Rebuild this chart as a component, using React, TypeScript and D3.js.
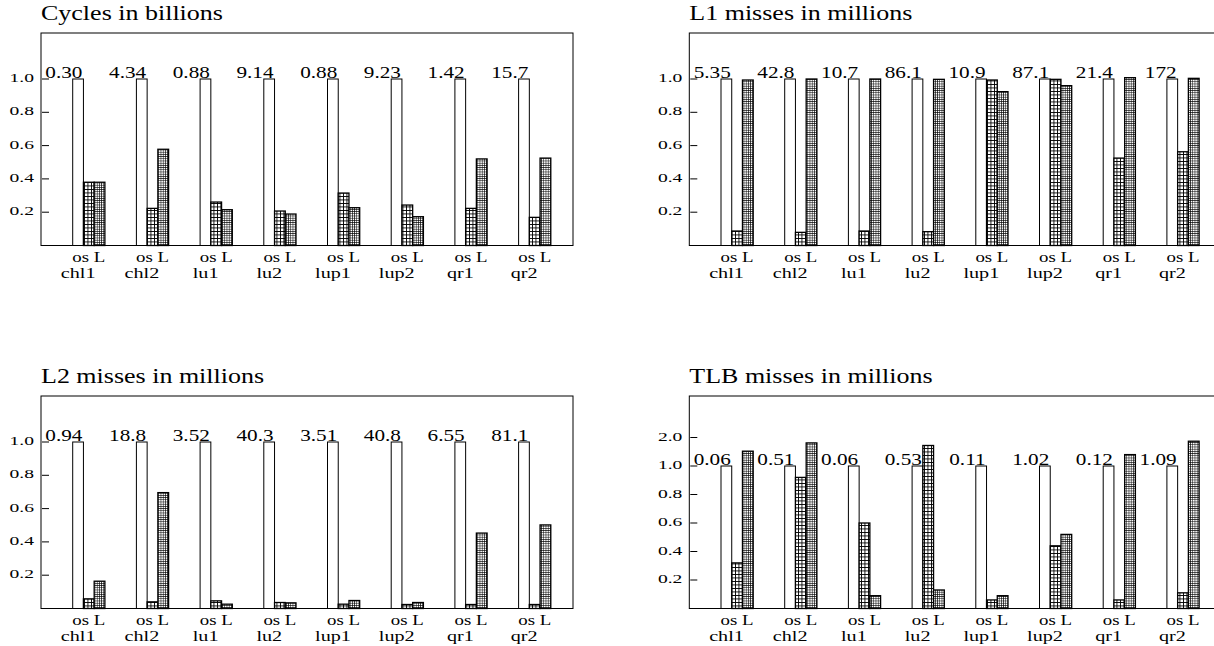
import React from "react";
import * as d3 from "d3";

const categories = ["chl1", "chl2", "lu1", "lu2", "lup1", "lup2", "qr1", "qr2"];
const series = ["base", "os", "L"];

const cyclesTitle = "Cycles in billions";
const cyclesLabels = ["0.30", "4.34", "0.88", "9.14", "0.88", "9.23", "1.42", "15.7"];
const cyclesOs = [0.38, 0.223, 0.261, 0.207, 0.315, 0.243, 0.223, 0.169];
const cyclesL = [0.38, 0.578, 0.215, 0.189, 0.227, 0.173, 0.52, 0.525];

const l1Title = "L1 misses in millions";
const l1Labels = ["5.35", "42.8", "10.7", "86.1", "10.9", "87.1", "21.4", "172"];
const l1Os = [0.087, 0.079, 0.087, 0.083, 0.994, 0.998, 0.525, 0.563];
const l1L = [0.994, 1.0, 1.0, 0.998, 0.924, 0.96, 1.008, 1.004];

const l2Title = "L2 misses in millions";
const l2Labels = ["0.94", "18.8", "3.52", "40.3", "3.51", "40.8", "6.55", "81.1"];
const l2Os = [0.058, 0.04, 0.046, 0.036, 0.026, 0.024, 0.024, 0.024];
const l2L = [0.164, 0.696, 0.026, 0.034, 0.048, 0.036, 0.453, 0.502];

const tlbTitle = "TLB misses in millions";
const tlbLabels = ["0.06", "0.51", "0.06", "0.53", "0.11", "1.02", "0.12", "1.09"];
const tlbOs = [0.32, 0.92, 0.6, 1.72, 0.06, 0.44, 0.06, 0.11];
const tlbL = [1.52, 1.81, 0.09, 0.13, 0.09, 0.52, 1.4, 1.87];

const ticksStd = [0.2, 0.4, 0.6, 0.8, 1.0];
const ticksTlb = [0.2, 0.4, 0.6, 0.8, 1.0, 2.0];

const W = 1214;
const H = 646;
const FONT = "Liberation Serif";
const panelW = 532;
const panelH = 212.5;
const colX = [41, 689.3];
const rowY = [33, 396];

type PanelDef = {
  title: string;
  labels: string[];
  os: number[];
  L: number[];
  ticks: number[];
  broken: boolean;
  col: number;
  row: number;
};

const panels: PanelDef[] = [
  { title: cyclesTitle, labels: cyclesLabels, os: cyclesOs, L: cyclesL, ticks: ticksStd, broken: false, col: 0, row: 0 },
  { title: l1Title, labels: l1Labels, os: l1Os, L: l1L, ticks: ticksStd, broken: false, col: 1, row: 0 },
  { title: l2Title, labels: l2Labels, os: l2Os, L: l2L, ticks: ticksStd, broken: false, col: 0, row: 1 },
  { title: tlbTitle, labels: tlbLabels, os: tlbOs, L: tlbL, ticks: ticksTlb, broken: true, col: 1, row: 1 },
];

function SText(props: {
  x: number;
  y: number;
  sx: number;
  size: number;
  anchor?: "start" | "middle" | "end";
  children: React.ReactNode;
}) {
  const { x, y, sx, size, anchor = "start", children } = props;
  return (
    <text
      transform={`translate(${x},${y}) scale(${sx},1)`}
      style={{ fontFamily: FONT, fontSize: size }}
      textAnchor={anchor}
      fill="#000"
    >
      {children}
    </text>
  );
}

function Panel({ p }: { p: PanelDef }) {
  const left = colX[p.col];
  const top = rowY[p.row];
  const bottom = top + panelH;
  const start = left + 31.7;
  const groupW = 32.2;
  const step = 63.7;
  const x = d3
    .scaleBand<string>()
    .domain(categories)
    .range([start, start + 7 * step + groupW])
    .paddingInner(1 - groupW / step)
    .paddingOuter(0);
  const xs = d3.scaleBand<string>().domain(series).range([0, x.bandwidth()]);
  const y = p.broken
    ? d3.scaleLinear().domain([0, 1, 2]).range([bottom, bottom - 142.5, bottom - 171])
    : d3.scaleLinear().domain([0, 1]).range([bottom, bottom - 166.5]);

  const fills: Record<string, string> = { base: "#fff", os: "url(#patOs)", L: "url(#patL)" };

  return (
    <g>
      <SText x={left} y={top - 13} sx={1.3} size={20}>
        {p.title}
      </SText>
      <rect x={left} y={top} width={panelW} height={panelH} fill="none" stroke="#000" strokeWidth={1} />
      {p.ticks.map((t) => (
        <g key={t}>
          <line x1={left + 1} x2={left + 8} y1={y(t)} y2={y(t)} stroke="#000" strokeWidth={1} />
          <SText x={left - 7} y={y(t) + 3} sx={1.7} size={11.5} anchor="end">
            {t.toFixed(1)}
          </SText>
        </g>
      ))}
      {categories.map((c, i) => {
        const gx = x(c) as number;
        const vals: Record<string, number> = { base: 1, os: p.os[i], L: p.L[i] };
        return (
          <g key={c}>
            {series.map((s) => (
              <rect
                key={s}
                x={gx + (xs(s) as number)}
                y={y(vals[s])}
                width={xs.bandwidth()}
                height={bottom - y(vals[s])}
                fill={fills[s]}
                stroke="#000"
                strokeWidth={s === "base" ? 1 : 1.3}
              />
            ))}
            <SText x={gx + xs.bandwidth() - 1} y={y(1) - 1.5} sx={1.3} size={16.3} anchor="end">
              {p.labels[i]}
            </SText>
            <SText x={gx + x.bandwidth() / 2} y={bottom + 16.3} sx={1.3} size={14.5} anchor="middle">
              {"os L"}
            </SText>
            <SText x={gx + 5.5} y={bottom + 32.3} sx={1.3} size={15.5} anchor="middle">
              {c}
            </SText>
          </g>
        );
      })}
    </g>
  );
}

export default function App() {
  return (
    <svg
      width={W}
      height={H}
      viewBox={`0 0 ${W} ${H}`}
      style={{ position: "absolute", left: 0, top: 0, background: "#fff" }}
    >
      <defs>
        <pattern id="patOs" width={3.5} height={3.5} patternUnits="userSpaceOnUse">
          <rect width={3.5} height={3.5} fill="#fff" />
          <path d="M0,0.5H3.5M0.5,0V3.5" stroke="#000" strokeWidth={1} shapeRendering="crispEdges" />
        </pattern>
        <pattern id="patL" width={2.2} height={2.2} patternUnits="userSpaceOnUse">
          <rect width={2.2} height={2.2} fill="#fff" />
          <path d="M0,0.5H2.2M0.5,0V2.2" stroke="#000" strokeWidth={0.8} shapeRendering="crispEdges" />
        </pattern>
      </defs>
      <rect width={W} height={H} fill="#fff" />
      {panels.map((p) => (
        <Panel key={p.title} p={p} />
      ))}
    </svg>
  );
}
